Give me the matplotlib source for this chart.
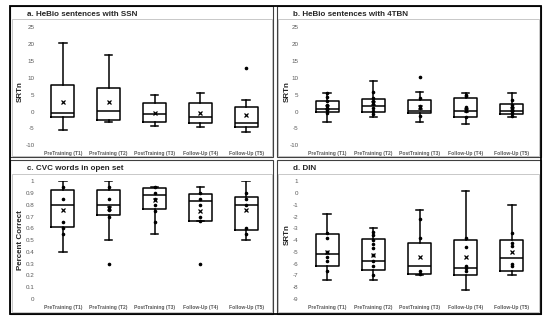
import numpy as np
import matplotlib
matplotlib.use('Agg')
import matplotlib.pyplot as plt
from matplotlib.patches import Rectangle

plt.rcParams['font.family'] = ['Liberation Sans Narrow', 'Liberation Sans', 'DejaVu Sans']

# categories
sessions = ['PreTraining (T1)', 'PreTraining (T2)', 'PostTraining (T3)', 'Follow-Up (T4)', 'Follow-Up (T5)']

# a. HeBio sentences with SSN
ssn_lo = [-5.5, -3.1, -4.3, -4.7, -6.2]
ssn_q1 = [-1.5, -2.5, -3.1, -3.3, -4.6]
ssn_med = [-0.3, 0.2, -0.6, -1.5, -3.5]
ssn_q3 = [7.9, 7.1, 2.6, 2.4, 1.5]
ssn_hi = [20.4, 16.9, 4.9, 5.6, 3.4]
ssn_mean = [2.9, 2.7, -0.3, -0.5, -1.0]
ssn_out = [[], [], [], [], [12.8]]
ssn_pts = [[], [], [], [], []]

# b. HeBio sentences with 4TBN
tbn_lo = [-3.0, -1.5, -3.0, -3.6, -1.5]
tbn_q1 = [-0.2, 0.0, -0.5, -1.5, -0.7]
tbn_med = [0.7, 1.7, 0.3, 0.1, 0.3]
tbn_q3 = [3.0, 3.8, 3.5, 3.9, 2.3]
tbn_hi = [5.5, 9.1, 5.9, 5.5, 5.5]
tbn_mean = [1.4, 2.5, 1.5, 0.6, 0.8]
tbn_out = [[], [], [10.2], [], []]
tbn_pts = [[5.5, 4.2, 3.0, 2.0, 1.2, 0.4, -0.4],
           [5.9, 4.0, 3.0, 2.3, 1.0, 0.2, -0.8],
           [4.0, 1.8, 1.2, -1.2],
           [4.8, 4.5, 1.3, 0.8, 0.3, -1.5],
           [3.5, 2.0, 1.3, 0.7, 0.1, -0.5, -1.2]]

# c. CVC words in open set
cvc_lo = [0.40, 0.50, 0.55, 0.66, 0.50]
cvc_q1 = [0.615, 0.715, 0.765, 0.66, 0.59]
cvc_med = [0.80, 0.80, 0.88, 0.83, 0.80]
cvc_q3 = [0.925, 0.925, 0.94, 0.89, 0.865]
cvc_hi = [1.0, 1.0, 0.95, 0.95, 1.0]
cvc_mean = [0.76, 0.77, 0.84, 0.75, 0.76]
cvc_out = [[], [0.30], [], [0.30], []]
cvc_pts = [[0.95, 0.85, 0.65, 0.60, 0.55],
           [0.95, 0.85, 0.78, 0.76, 0.70],
           [0.95, 0.90, 0.85, 0.80, 0.75, 0.65],
           [0.90, 0.85, 0.80, 0.70, 0.66],
           [0.90, 0.85, 0.80, 0.60, 0.55]]

# d. DIN
din_lo = [-7.4, -7.4, -7.0, -8.2, -7.0]
din_q1 = [-6.2, -6.5, -6.9, -7.0, -6.6]
din_med = [-5.2, -5.8, -6.2, -6.4, -5.5]
din_q3 = [-3.5, -3.9, -4.2, -4.0, -4.0]
din_hi = [-1.8, -3.0, -1.4, 0.2, -1.0]
din_mean = [-5.0, -5.3, -5.4, -5.4, -5.0]
din_out = [[], [], [], [], []]
din_pts = [[-3.4, -3.8, -5.0, -5.4, -5.8, -6.6],
           [-3.3, -3.6, -4.0, -4.3, -4.7, -5.3, -5.8, -6.2, -7.0],
           [-2.2, -3.8, -6.6, -6.9],
           [-3.8, -4.6, -6.2, -6.4, -6.6],
           [-3.4, -4.2, -4.5, -6.0, -6.2]]

W, H = 550, 324
fig = plt.figure(figsize=(W/100, H/100), dpi=100)


def rect(l, t, r, b, **kw):
    fig.add_artist(Rectangle((l/W, 1-b/H), (r-l)/W, (b-t)/H, transform=fig.transFigure,
                             fill=False, **kw))


def panel(l, r, t, b, lo, q1, med, q3, hi, mean, out, pts, ylim, yticks, ylabels):
    ax = fig.add_axes([l/W, 1-b/H, (r-l)/W, (b-t)/H])
    stats = []
    for i in range(5):
        stats.append(dict(whislo=lo[i], q1=q1[i], med=med[i], q3=q3[i], whishi=hi[i],
                          mean=mean[i], fliers=out[i], label=sessions[i]))
    lp = dict(color='black', linewidth=1.1)
    ax.bxp(stats, positions=range(1, 6), widths=0.5, capwidths=0.16, showmeans=True,
           boxprops=lp, whiskerprops=lp, capprops=lp, medianprops=lp,
           meanprops=dict(marker='x', markeredgecolor='black', markersize=3.5, markeredgewidth=0.9),
           flierprops=dict(marker='o', markerfacecolor='black', markeredgecolor='black', markersize=1.6))
    for i in range(5):
        ax.scatter(np.full(len(pts[i]), i+1), pts[i], s=2.5, color='black', zorder=3)
    ax.set_xlim(0.5, 5.5)
    ax.set_ylim(*ylim)
    ax.set_yticks(yticks)
    ax.set_yticklabels(ylabels)
    ax.tick_params(length=0, labelsize=4.5, colors='#595959', pad=4)
    for lab in ax.get_xticklabels():
        lab.set_fontweight('bold')
        lab.set_fontsize(3.6)
    for s in ax.spines.values():
        s.set_visible(False)
    ax.patch.set_alpha(0)
    return ax


# frames
rect(12, 19, 272, 156, edgecolor='#bfbfbf', linewidth=0.6)
rect(278, 19, 539, 156, edgecolor='#bfbfbf', linewidth=0.6)
rect(12, 174, 272, 312, edgecolor='#bfbfbf', linewidth=0.6)
rect(278, 174, 539, 312, edgecolor='#bfbfbf', linewidth=0.6)
rect(10, 6, 273, 157, edgecolor='#404040', linewidth=0.8)
rect(277, 6, 541, 157, edgecolor='#404040', linewidth=0.8)
rect(10, 160, 273, 314, edgecolor='#404040', linewidth=0.8)
rect(277, 160, 541, 314, edgecolor='#404040', linewidth=0.8)
rect(10, 6, 541, 314, edgecolor='black', linewidth=1.3)

srt = list(range(-10, 26, 5))
panel(40, 269, 27.3, 145.3, ssn_lo, ssn_q1, ssn_med, ssn_q3, ssn_hi, ssn_mean, ssn_out, ssn_pts,
      (-10, 25), srt, [str(v) for v in srt])
panel(304, 535, 27.3, 145.3, tbn_lo, tbn_q1, tbn_med, tbn_q3, tbn_hi, tbn_mean, tbn_out, tbn_pts,
      (-10, 25), srt, [str(v) for v in srt])
pc = [i/10 for i in range(11)]
panel(40, 269, 181.3, 299, cvc_lo, cvc_q1, cvc_med, cvc_q3, cvc_hi, cvc_mean, cvc_out, cvc_pts,
      (0, 1), pc, ['0'] + [f'{v:.1f}' for v in pc[1:-1]] + ['1'])
dn = list(range(-9, 2))
panel(304, 535, 181.3, 299, din_lo, din_q1, din_med, din_q3, din_hi, din_mean, din_out, din_pts,
      (-9, 1), dn, [str(v) for v in dn])

# titles and axis labels
tk = dict(fontweight='bold', fontsize=5.8, color='#262626', va='center', ha='left')
fig.text(27/W, 1-15/H, 'a. HeBio sentences with SSN', **tk)
fig.text(293/W, 1-15/H, 'b. HeBio sentences with 4TBN', **tk)
fig.text(27/W, 1-169/H, 'c. CVC words in open set', **tk)
fig.text(293/W, 1-169/H, 'd. DIN', **tk)
yk = dict(fontweight='bold', fontsize=5.8, color='#262626', rotation=90, va='center', ha='center')
fig.text(20/W, 1-92/H, 'SRTn', **yk)
fig.text(287/W, 1-92/H, 'SRTn', **yk)
fig.text(20/W, 1-240/H, 'Percent Correct', **yk)
fig.text(287/W, 1-235/H, 'SRTn', **yk)

fig.savefig('out.png', dpi=100)
